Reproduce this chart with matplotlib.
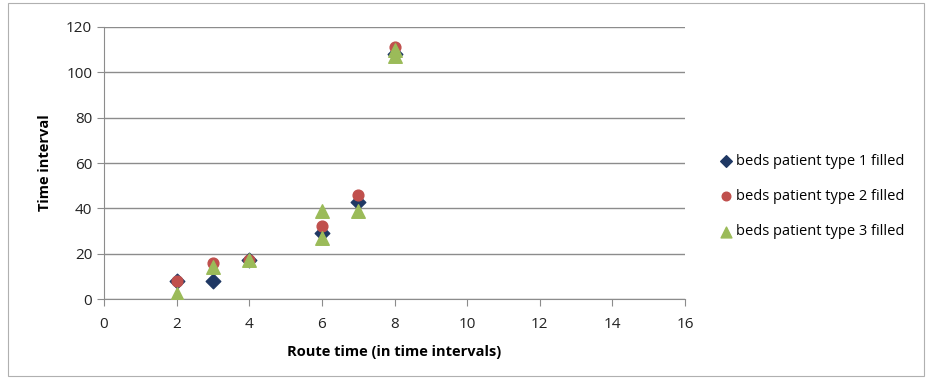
import matplotlib
matplotlib.use('Agg')
import matplotlib.pyplot as plt
from matplotlib.patches import Rectangle

plt.rcParams['font.family'] = ['Open Sans', 'DejaVu Sans']

# data
x1 = [2, 3, 4, 6, 7, 8]
y1 = [8, 8, 17, 29, 43, 108]
x2 = [2, 3, 4, 6, 7, 8]
y2 = [8, 16, 17, 32, 46, 111]
x3 = [2, 3, 4, 6, 6, 7, 8, 8]
y3 = [2, 14, 17, 27, 39, 39, 107, 110]
labels = ['beds patient type 1 filled', 'beds patient type 2 filled', 'beds patient type 3 filled']

fig = plt.figure(figsize=(9.3, 3.79), dpi=100)
ax = fig.add_axes([0.1118, 0.211, 0.6248, 0.7178])

# outer frame of the chart area
fig.patches.append(Rectangle((0.009, 0.008), 0.985, 0.985, transform=fig.transFigure,
                             fill=False, edgecolor='#b0b0b0', linewidth=0.8))

ax.scatter(x1, y1, marker='D', s=55, color='#1f3864', label=labels[0], zorder=3)
ax.scatter(x2, y2, marker='o', s=60, color='#c0504d', label=labels[1], zorder=4)
ax.scatter(x3, y3, marker='^', s=95, color='#9bbb59', label=labels[2], zorder=5)

ax.set_xlim(0, 16)
ax.set_ylim(0, 120)
ax.set_xticks(range(0, 17, 2))
ax.set_yticks(range(0, 121, 20))
ax.grid(axis='y', color='#8c8c8c', linewidth=1)
ax.set_axisbelow(True)
for s in ['top', 'right']:
    ax.spines[s].set_visible(False)
for s in ['left', 'bottom']:
    ax.spines[s].set_color('#8c8c8c')
ax.tick_params(direction='out', length=5, color='#8c8c8c', labelsize=11, labelcolor='#222222')
ax.tick_params(axis='x', pad=8)

ax.set_xlabel('Route time (in time intervals)', fontsize=10.5, fontweight='bold', labelpad=9)
ax.set_ylabel('Time interval', fontsize=10.5, fontweight='bold', labelpad=10)

fig.legend(loc='upper left', bbox_to_anchor=(0.765, 0.61), frameon=False, fontsize=10.5,
           handletextpad=0.05, labelspacing=1.4, borderaxespad=0, handlelength=1.2,
           scatterpoints=1, markerscale=0.8)

fig.savefig('out.png', dpi=100)
